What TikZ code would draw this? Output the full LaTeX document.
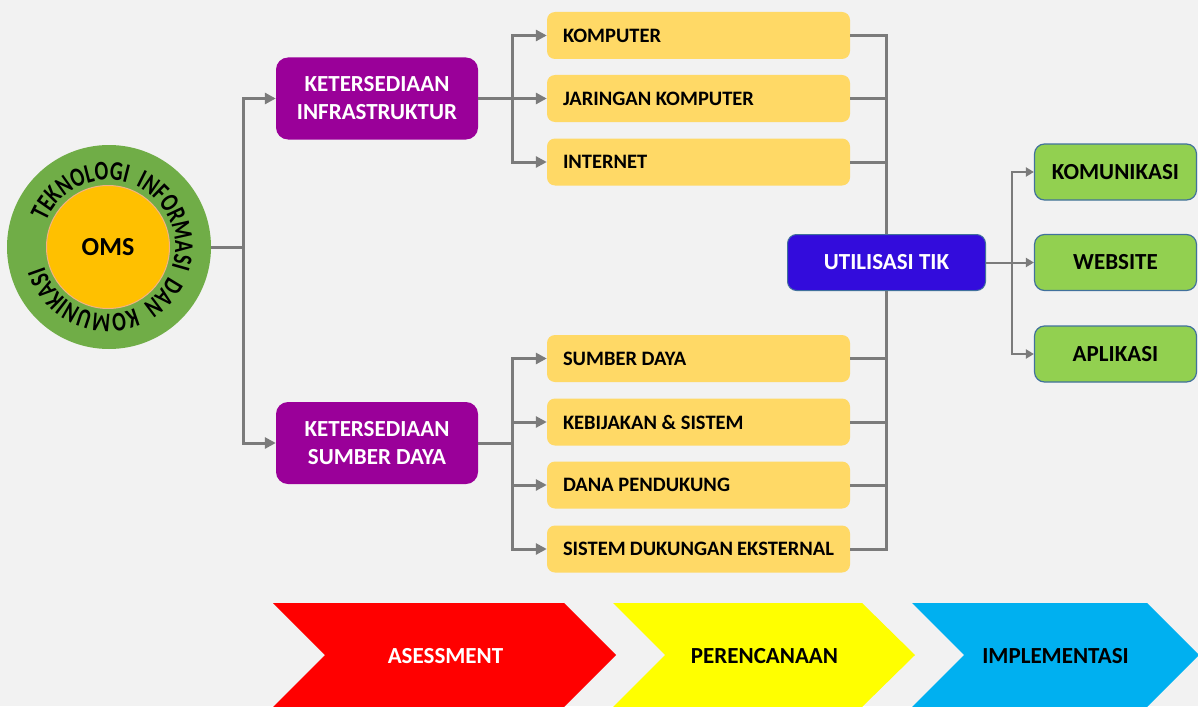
\documentclass[tikz,border=0pt]{standalone}
\usepackage{fontspec}
\setmainfont{Carlito}
\newfontfamily\arcfont{Carlito}[FakeStretch=0.75]
\usetikzlibrary{arrows.meta,decorations.text}

\definecolor{bg}{HTML}{F2F2F2}
\definecolor{purp}{HTML}{9A0099}
\definecolor{gold}{HTML}{FFD966}
\definecolor{lineg}{HTML}{7B7B7B}
\definecolor{utilblue}{HTML}{330CDC}
\definecolor{edgeblue}{HTML}{41719C}
\definecolor{leaf}{HTML}{92D050}
\definecolor{ring}{HTML}{70AD47}
\definecolor{core}{HTML}{FFC000}
\definecolor{coreedge}{HTML}{F4B183}
\definecolor{chred}{HTML}{FF0000}
\definecolor{chyellow}{HTML}{FFFF00}
\definecolor{chblue}{HTML}{00B0F0}

\begin{document}
\begin{tikzpicture}[x=1pt,y=-1pt,
  conn/.style={draw=lineg, line width=3pt},
  arr/.style={conn, -{Triangle[length=11pt,width=11pt]}},
  tconn/.style={draw=lineg, line width=2pt},
  tarr/.style={tconn, -{Triangle[length=8pt,width=9pt]}},
  pillar/.style={fill=purp, rounded corners=12pt, minimum width=202pt,
    minimum height=82pt, inner sep=0pt, text=white, align=center,
    font=\fontsize{23}{28}\selectfont\bfseries},
  item/.style={fill=gold, rounded corners=8pt, inner xsep=16pt, inner ysep=0pt,
    text width=271pt, minimum height=47pt, align=flush left,
    font=\fontsize{20.5}{24}\selectfont\bfseries},
  hub/.style={fill=utilblue, draw=edgeblue, line width=1pt, rounded corners=9pt,
    minimum width=198pt, minimum height=56pt, inner sep=0pt, text=white,
    font=\fontsize{23}{28}\selectfont\bfseries},
  leafbox/.style={fill=leaf, draw=edgeblue, line width=1.2pt, rounded corners=10pt,
    minimum width=162pt, minimum height=56pt, inner sep=0pt,
    font=\fontsize{23}{28}\selectfont\bfseries},
  phase/.style={font=\fontsize{23}{28}\selectfont\bfseries, inner sep=0pt}
]
\useasboundingbox[fill=bg] (0,0) rectangle (1198,706);

% central emblem
\node[circle, fill=ring, minimum size=204pt, inner sep=0pt] (ring) at (109,247) {};
\node[circle, fill=core, draw=coreedge, line width=1pt, minimum size=123pt, inner sep=0pt,
  font=\fontsize{26}{30}\selectfont\bfseries] (oms) at (108,247) {OMS};
% curved title around the emblem, clockwise, with widened word gaps
\path[decorate, decoration={text along path, text align=center,
    text={|\arcfont\bfseries\fontsize{27}{27}\selectfont|TEKNOLOGI{\kern9pt}INFORMASI{\kern9pt}DAN{\kern9pt}KOMUNIKASI}}]
  (108,247) ++(-177.5:67) arc[start angle=-177.5, end angle=182.5, radius=67];

% two pillars
\node[pillar] (infra) at (377,98.5) {KETERSEDIAAN\\INFRASTRUKTUR};
\node[pillar] (sdaya) at (377,443) {KETERSEDIAAN\\SUMBER DAYA};

% detail items
\node[item] (k1) at (698.5,35.5) {KOMPUTER};
\node[item] (k2) at (698.5,98.5) {JARINGAN KOMPUTER};
\node[item] (k3) at (698.5,162) {INTERNET};
\node[item] (s1) at (698.5,358.5) {SUMBER DAYA};
\node[item] (s2) at (698.5,422) {KEBIJAKAN \& SISTEM};
\node[item] (s3) at (698.5,485) {DANA PENDUKUNG};
\node[item] (s4) at (698.5,549) {SISTEM DUKUNGAN EKSTERNAL};

% utilisation hub and outcomes
\node[hub] (util) at (886.5,262.5) {UTILISASI TIK};
\node[leafbox] (g1) at (1115.5,172) {KOMUNIKASI};
\node[leafbox] (g2) at (1115.5,262.5) {WEBSITE};
\node[leafbox] (g3) at (1115.5,354) {APLIKASI};

% junction points
\coordinate (j0) at (243,247);
\coordinate (j1) at (512,98.5);
\coordinate (j2) at (512,443);
\coordinate (j3) at (1012,262.5);

% emblem to pillars
\draw[conn] (ring.east) -- (j0);
\draw[arr] (j0) |- (infra.west);
\draw[arr] (j0) |- (sdaya.west);

% pillars to items
\draw[conn] (infra.east) -- (j1);
\draw[arr] (j1) |- (k1.west);
\draw[arr] (j1) -- (k2.west);
\draw[arr] (j1) |- (k3.west);
\draw[conn] (sdaya.east) -- (j2);
\draw[arr] (j2) |- (s1.west);
\draw[arr] (j2) |- (s2.west);
\draw[arr] (j2) |- (s3.west);
\draw[arr] (j2) |- (s4.west);

% items into the hub
\foreach \n in {k1,k2,k3}
  \draw[conn] (\n.east) -| (util.north);
\foreach \n in {s1,s2,s3,s4}
  \draw[conn] (\n.east) -| (util.south);

% hub to outcomes
\draw[tconn] (util.east) -- (j3);
\draw[tarr] (j3) |- (g1.west);
\draw[tarr] (j3) -- (g2.west);
\draw[tarr] (j3) |- (g3.west);

% phase chevrons
\fill[chred] (273,603) -- (564,603) -- (616,655) -- (564,707) -- (273,707) -- (325,655) -- cycle;
\fill[chyellow] (613,603) -- (862,603) -- (915,655) -- (862,707) -- (613,707) -- (665,655) -- cycle;
\fill[chblue] (912,603) -- (1147,603) -- (1199,655) -- (1147,707) -- (912,707) -- (964,655) -- cycle;
\node[phase, text=white] (p1) at (445.5,656) {ASESSMENT};
\node[phase] (p2) at (764.5,656) {PERENCANAAN};
\node[phase] (p3) at (1055.5,656) {IMPLEMENTASI};
\end{tikzpicture}
\end{document}
